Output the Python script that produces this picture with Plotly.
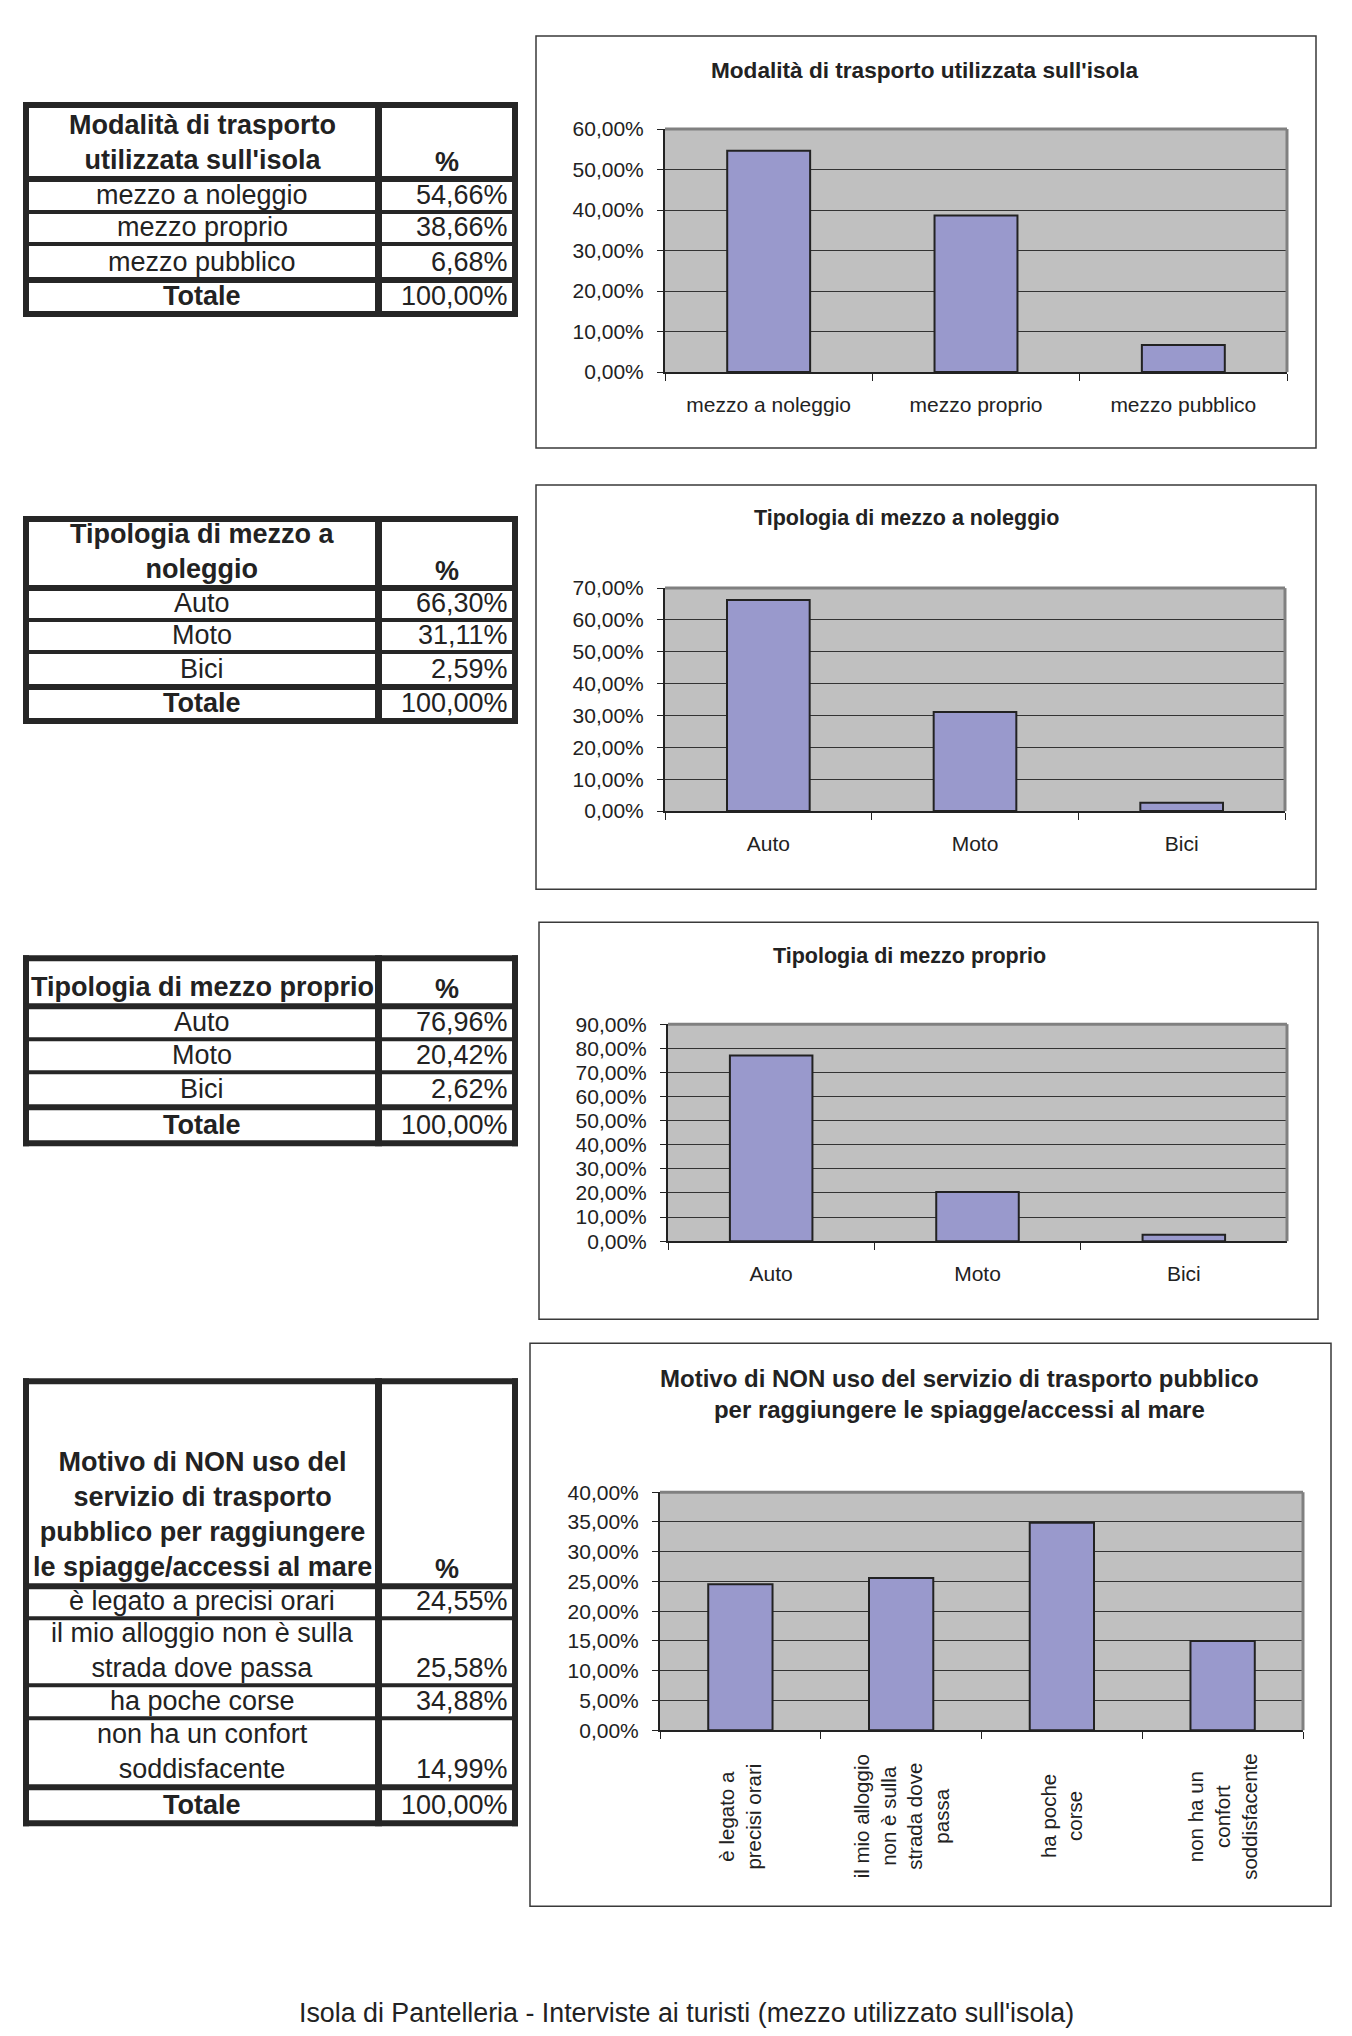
import plotly.graph_objects as go

W, H = 1352, 2036
FONT = "Liberation Sans, Arial, sans-serif"
INK = "#222222"

# ---------------- data ----------------
modalita_cat = ["mezzo a noleggio", "mezzo proprio", "mezzo pubblico"]
modalita_val = [54.66, 38.66, 6.68]

noleggio_cat = ["Auto", "Moto", "Bici"]
noleggio_val = [66.30, 31.11, 2.59]

proprio_cat = ["Auto", "Moto", "Bici"]
proprio_val = [76.96, 20.42, 2.62]

motivo_cat = ["è legato a precisi orari",
              "il mio alloggio non è sulla strada dove passa",
              "ha poche corse",
              "non ha un confort soddisfacente"]
motivo_val = [24.55, 25.58, 34.88, 14.99]
motivo_axis_labels = ["è legato a<br>precisi orari",
                      "il mio alloggio<br>non è sulla<br>strada dove<br>passa",
                      "ha poche<br>corse",
                      "non ha un<br>confort<br>soddisfacente"]
motivo_table_labels = ["è legato a precisi orari",
                       "il mio alloggio non è sulla<br>strada dove passa",
                       "ha poche corse",
                       "non ha un confort<br>soddisfacente"]

chart_titles = ["Modalità di trasporto utilizzata sull'isola",
                "Tipologia di mezzo a noleggio",
                "Tipologia di mezzo proprio",
                "Motivo di NON uso del servizio di trasporto pubblico<br>per raggiungere le spiagge/accessi al mare"]
table_headers = ["Modalità di trasporto<br>utilizzata sull'isola",
                 "Tipologia di mezzo a<br>noleggio",
                 "Tipologia di mezzo proprio",
                 "Motivo di NON uso del<br>servizio di trasporto<br>pubblico per raggiungere<br>le spiagge/accessi al mare"]
y_max = [60, 70, 90, 40]
y_step = [10, 10, 10, 5]
total_label = "Totale"
caption = "Isola di Pantelleria - Interviste ai turisti (mezzo utilizzato sull'isola)"

# vertical layout calibration (centre / stretch)
YC, YS = 961.0, 1.0 / 0.9886


def px_x(x):
    return x / W


def px_y(y):
    return 1 - (YC + (y - YC) * YS) / H


def pct(v):
    return f"{v:.2f}".replace(".", ",") + "%"


fig = go.Figure()
shapes = []
annotations = []

# ---------------- charts ----------------
charts = [
    dict(cats=modalita_cat, vals=modalita_val, plot=(665, 1287, 128, 371),
         box=(536, 35, 1316, 447), title_xy=(925, 69), tsize=22.6),
    dict(cats=noleggio_cat, vals=noleggio_val, plot=(665, 1285, 587, 810),
         box=(536, 484, 1316, 888), title_xy=(907, 517), tsize=21.5),
    dict(cats=proprio_cat, vals=proprio_val, plot=(668, 1287, 1023, 1240),
         box=(539, 921, 1318, 1318), title_xy=(909, 955), tsize=21.5),
    dict(cats=motivo_cat, vals=motivo_val, plot=(660, 1303, 1491, 1729),
         box=(530, 1342, 1331, 1905), title_xy=(959, 1393), tsize=24),
]

for i, c in enumerate(charts):
    n = i + 1
    xa = "x" if n == 1 else f"x{n}"
    ya = "y" if n == 1 else f"y{n}"
    fig.add_trace(go.Bar(
        x=c["cats"], y=c["vals"], xaxis=xa, yaxis=ya, showlegend=False,
        marker=dict(color="#9999CC", line=dict(color="#222222", width=2)),
        hovertemplate="%{x}: %{y:.2f}%<extra></extra>"))
    x0, x1, y0, y1 = c["plot"]
    xkey = "xaxis" if n == 1 else f"xaxis{n}"
    ykey = "yaxis" if n == 1 else f"yaxis{n}"
    fig.layout[xkey] = dict(
        domain=[px_x(x0), px_x(x1)], anchor=ya, type="category",
        showline=True, linecolor="#222222", linewidth=2,
        ticks="outside", tickson="boundaries", ticklen=7, tickcolor="#222222",
        tickwidth=1, showgrid=False, tickfont=dict(size=21, color=INK, family=FONT),
        ticklabelstandoff=13, showticklabels=(n != 4), fixedrange=True)
    fig.layout[ykey] = dict(
        domain=[px_y(y1), px_y(y0)], anchor=xa, range=[0, y_max[i]],
        tick0=0, dtick=y_step[i], tickformat=".2f", ticksuffix="%",
        showgrid=True, gridcolor="#333333", gridwidth=1, zeroline=False,
        showline=True, linecolor="#222222", linewidth=2,
        ticks="outside", ticklen=6, tickcolor="#222222",
        tickfont=dict(size=21, color=INK, family=FONT),
        ticklabelstandoff=9, fixedrange=True)
    # gray top / right border of plot area
    xd, yd = f"{xa} domain", f"{ya} domain"
    shapes.append(dict(type="line", xref=xd, yref=yd, x0=0, x1=1, y0=1, y1=1,
                       line=dict(color="#808080", width=3), layer="above"))
    shapes.append(dict(type="line", xref=xd, yref=yd, x0=1, x1=1, y0=0, y1=1,
                       line=dict(color="#808080", width=3), layer="above"))
    # chart frame
    bx0, by0, bx1, by1 = c["box"]
    shapes.append(dict(type="rect", xref="paper", yref="paper",
                       x0=px_x(bx0), x1=px_x(bx1), y0=px_y(by1), y1=px_y(by0),
                       line=dict(color="#3a3a3a", width=1.5), layer="below"))
    tx, ty = c["title_xy"]
    annotations.append(dict(text="<b>" + chart_titles[i] + "</b>", xref="paper", yref="paper",
                            x=px_x(tx), y=px_y(ty), xanchor="center", yanchor="middle",
                            showarrow=False, align="center",
                            font=dict(size=c["tsize"], color=INK, family=FONT)))

# rotated category labels of chart 4
for cat, lab in zip(motivo_cat, motivo_axis_labels):
    annotations.append(dict(text=lab, xref="x4", yref="paper", x=cat, y=px_y(1815),
                            xanchor="center", yanchor="middle", textangle=-90,
                            showarrow=False, align="center",
                            font=dict(size=20.5, color=INK, family=FONT)))

# ---------------- tables ----------------
tables = [
    dict(header=table_headers[0], labels=modalita_cat, values=modalita_val,
         lines=[104, 178, 211, 243, 279, 313]),
    dict(header=table_headers[1], labels=noleggio_cat, values=noleggio_val,
         lines=[518, 587, 619, 651, 686, 720]),
    dict(header=table_headers[2], labels=proprio_cat, values=proprio_val,
         lines=[957, 1005, 1038, 1071, 1106, 1142]),
    dict(header=table_headers[3], labels=motivo_table_labels, values=motivo_val,
         lines=[1380, 1585, 1617, 1684, 1717, 1786, 1822]),
]
TL, TR, TS = 26, 515, 378.5      # left, right, split (centres of borders)
LAB_X, PCT_X, VAL_X = 202, 447, 510
BORDER = "#262626"
TFS = 27

for t in tables:
    lines = t["lines"]
    nl = len(lines)
    thick = [6 if k in (0, 1, nl - 2, nl - 1) else 4 for k in range(nl)]
    top, bot = lines[0] - 3, lines[-1] + 3
    # vertical borders
    for xc, w in ((TL, 6), (TS, 7), (TR, 6)):
        shapes.append(dict(type="rect", xref="paper", yref="paper",
                           x0=px_x(xc - w / 2), x1=px_x(xc + w / 2),
                           y0=px_y(bot), y1=px_y(top),
                           fillcolor=BORDER, line=dict(width=0), layer="above"))
    # horizontal borders
    for yc, w in zip(lines, thick):
        shapes.append(dict(type="rect", xref="paper", yref="paper",
                           x0=px_x(TL - 3), x1=px_x(TR + 3),
                           y0=px_y(yc + w / 2), y1=px_y(yc - w / 2),
                           fillcolor=BORDER, line=dict(width=0), layer="above"))
    # header
    hb = lines[1] - thick[1] / 2 + 1
    annotations.append(dict(text="<b>" + t["header"] + "</b>", xref="paper", yref="paper",
                            x=px_x(LAB_X), y=px_y(hb), xanchor="center", yanchor="bottom",
                            showarrow=False, align="center",
                            font=dict(size=TFS, color=INK, family=FONT)))
    annotations.append(dict(text="<b>%</b>", xref="paper", yref="paper",
                            x=px_x(PCT_X), y=px_y(hb + 2), xanchor="center", yanchor="bottom",
                            showarrow=False, font=dict(size=TFS, color=INK, family=FONT)))
    rows = list(zip(t["labels"], t["values"])) + [("<b>" + total_label + "</b>", round(sum(t["values"]), 2))]
    for r, (lab, val) in enumerate(rows):
        k = r + 2
        yb = lines[k] - thick[k] / 2 + 2
        annotations.append(dict(text=lab, xref="paper", yref="paper",
                                x=px_x(LAB_X), y=px_y(yb), xanchor="center", yanchor="bottom",
                                showarrow=False, align="center",
                                font=dict(size=TFS, color=INK, family=FONT)))
        annotations.append(dict(text=pct(val), xref="paper", yref="paper",
                                x=px_x(VAL_X), y=px_y(yb), xanchor="right", yanchor="bottom",
                                showarrow=False, align="right",
                                font=dict(size=TFS, color=INK, family=FONT)))

# caption
annotations.append(dict(text=caption, xref="paper", yref="paper",
                        x=px_x(686), y=px_y(2012), xanchor="center", yanchor="middle",
                        showarrow=False, font=dict(size=26.8, color=INK, family=FONT)))

fig.update_layout(
    width=W, height=H, autosize=False,
    margin=dict(l=0, r=0, t=0, b=0, pad=0),
    paper_bgcolor="white", plot_bgcolor="#C0C0C0",
    bargap=0.6, separators=",.",
    font=dict(family=FONT, color=INK),
    shapes=shapes, annotations=annotations,
)

fig.write_html("out.html",
               config={"displayModeBar": False},
               post_script="document.body.style.margin='0';document.body.style.overflow='hidden';")
